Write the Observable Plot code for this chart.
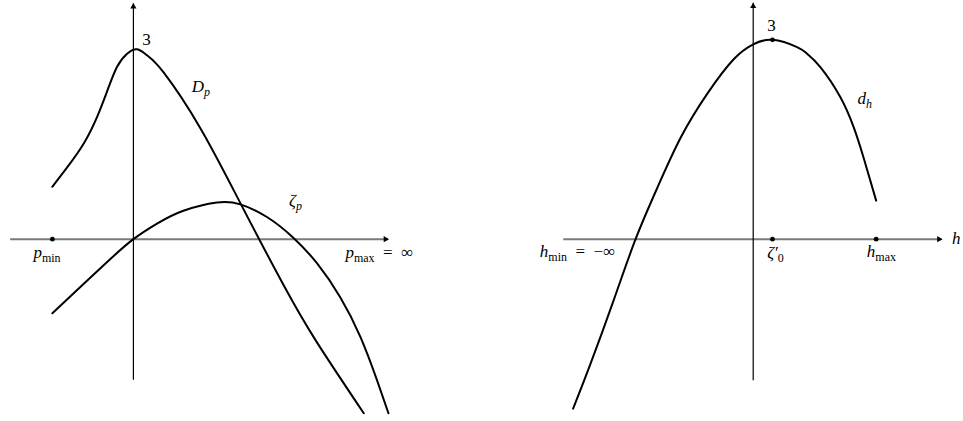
<!DOCTYPE html>
<html>
<head>
<meta charset="utf-8">
<script src="https://cdn.jsdelivr.net/npm/d3@7"></script>
<script src="https://cdn.jsdelivr.net/npm/@observablehq/plot@0.6"></script>
<style>
  body { margin: 0; background: #fff; }
  #chart { display: flex; width: 963px; height: 421px; }
  #chart svg { display: block; }
  #chart svg text, #chart svg tspan { font-family: "Liberation Serif", "DejaVu Serif", serif; }
</style>
</head>
<body>
<div id="chart"></div>
<script>
// ---- Left panel: D_p and ζ_p as functions of p ----
const pD   = [-1.28, -1.05, -0.78, -0.57, -0.41, -0.26, -0.1, 0.06, 0.22, 0.48, 1.06, 1.69, 2.37, 2.9, 3.64];
const dpV  = [0.83, 1.13, 1.52, 1.94, 2.35, 2.72, 2.93, 3.0, 2.9, 2.63, 1.75, 0.57, -0.72, -1.63, -2.75];
const pZ   = [-1.28, -0.78, -0.36, 0, 0.38, 0.79, 1.32, 1.69, 2.11, 2.53, 2.9, 3.27, 3.59, 3.85, 4.03];
const zetaV = [-1.17, -0.7, -0.31, 0, 0.25, 0.45, 0.58, 0.55, 0.35, 0.02, -0.38, -0.92, -1.55, -2.23, -2.75];
const pMin = -1.28;
const leftXAxis = [-1.94, 4.03];   // horizontal axis extent
const leftYAxis = [-2.23, 3.72];   // vertical axis extent

// Left panel labels: base symbol, subscript, trailing text
const leftLabelX    = [0.14, 0.92, 2.46, -1.58, 3.35];
const leftLabelY    = [3.06, 2.33, 0.52, -0.29, -0.29];
const leftLabelBase = ["3", "D", "ζ", "p", "p"];
const leftLabelSub  = ["", "p", "p", "min", "max"];
const leftLabelTail = ["", "", "", "", "\u2002=\u2002∞"];

// ---- Right panel: d_h as a function of h ----
const hV  = [-2.71, -2.45, -2.1, -1.77, -1.44, -1.09, -0.69, -0.29, 0, 0.29, 0.66, 0.81, 1.01, 1.31, 1.51, 1.66, 1.85];
const dhV = [-2.55, -1.88, -0.92, 0, 0.78, 1.53, 2.19, 2.71, 2.93, 3.0, 2.89, 2.79, 2.59, 2.14, 1.69, 1.23, 0.58];
const zeta0 = 0.29;
const hMax = 1.85;
const peak = 3;
const rightXAxis = [-2.85, 2.84];
const rightYAxis = [-2.13, 3.55];

const rightLabelX    = [0.21, 1.57, 2.99, -3.21, 0.21, 1.71];
const rightLabelY    = [3.13, 2.03, -0.08, -0.275, -0.29, -0.275];
const rightLabelBase = ["3", "d", "h", "h", "ζ′", "h"];
const rightLabelSub  = ["", "h", "", "min", "0", "max"];
const rightLabelTail = ["", "", "", "\u2002=\u2002−∞", "", ""];

const FONT = "Liberation Serif, DejaVu Serif, serif";
const AXIS_GRAY = "#7a7a7a";

// Single letters (optionally primed) are set in italic, as in math mode
const isItalic = s => /^[A-Za-zα-ωΑ-Ω]′?$/.test(s);

function typeset(svg, key, base, sub, tail) {
  const ns = "http://www.w3.org/2000/svg";
  svg.querySelectorAll(`g[aria-description="${key}"] text`).forEach((el, i) => {
    el.textContent = "";
    const span = (t, attrs) => {
      const s = document.createElementNS(ns, "tspan");
      s.textContent = t;
      for (const k in attrs) s.setAttribute(k, attrs[k]);
      el.appendChild(s);
    };
    span(base[i], {"font-style": isItalic(base[i]) ? "italic" : "normal"});
    if (sub[i]) span(sub[i], {"font-size": 12, dy: 4, "font-style": isItalic(sub[i]) ? "italic" : "normal"});
    if (tail[i]) span(tail[i], {dy: sub[i] ? -4 : 0, "font-style": "normal"});
  });
}

function axesMarks(xExt, yExt) {
  return [
    Plot.ruleY([0], {x1: xExt[0], x2: xExt[1], stroke: AXIS_GRAY, strokeWidth: 2}),
    Plot.dot([xExt[1]], {x: d => d, y: 0, symbol: "triangle", rotate: 90, r: 2.3, fill: "#000", stroke: "none", dx: -3}),
    Plot.ruleX([0], {y1: yExt[0], y2: yExt[1], stroke: "#000", strokeWidth: 1.2}),
    Plot.dot([yExt[1]], {x: 0, y: d => d, symbol: "triangle", r: 2.3, fill: "#000", stroke: "none", dy: 3})
  ];
}

const curveStyle = {curve: "natural", stroke: "#000", strokeWidth: 2};

const left = Plot.plot({
  width: 481, height: 421, margin: 0,
  x: {domain: [-2.1, 5.5], axis: null},
  y: {domain: [-2.88, 3.77], axis: null},
  style: {fontFamily: FONT, background: "#fff", overflow: "visible"},
  marks: [
    ...axesMarks(leftXAxis, leftYAxis),
    Plot.line(pD, {x: d => d, y: (d, i) => dpV[i], ...curveStyle}),
    Plot.line(pZ, {x: d => d, y: (d, i) => zetaV[i], ...curveStyle}),
    Plot.dot([pMin], {x: d => d, y: 0, r: 2.4, fill: "#000", stroke: "none"}),
    Plot.text(leftLabelBase, {x: leftLabelX, y: leftLabelY, text: d => d, textAnchor: "start", lineAnchor: "bottom",
      fontSize: 17, fontFamily: FONT, fill: "#000", ariaDescription: "left-labels"})
  ]
});
typeset(left, "left-labels", leftLabelBase, leftLabelSub, leftLabelTail);

const right = Plot.plot({
  width: 482, height: 421, margin: 0,
  x: {domain: [-4.088, 3.164], axis: null},
  y: {domain: [-2.743, 3.591], axis: null},
  style: {fontFamily: FONT, background: "#fff", overflow: "visible"},
  marks: [
    ...axesMarks(rightXAxis, rightYAxis),
    Plot.line(hV, {x: d => d, y: (d, i) => dhV[i], ...curveStyle}),
    Plot.dot([zeta0, hMax], {x: d => d, y: 0, r: 2.4, fill: "#000", stroke: "none"}),
    Plot.dot([zeta0], {x: d => d, y: peak, r: 2.4, fill: "#000", stroke: "none"}),
    Plot.text(rightLabelBase, {x: rightLabelX, y: rightLabelY, text: d => d, textAnchor: "start", lineAnchor: "bottom",
      fontSize: 17, fontFamily: FONT, fill: "#000", ariaDescription: "right-labels"})
  ]
});
typeset(right, "right-labels", rightLabelBase, rightLabelSub, rightLabelTail);

document.getElementById("chart").append(left, right);
</script>
</body>
</html>
